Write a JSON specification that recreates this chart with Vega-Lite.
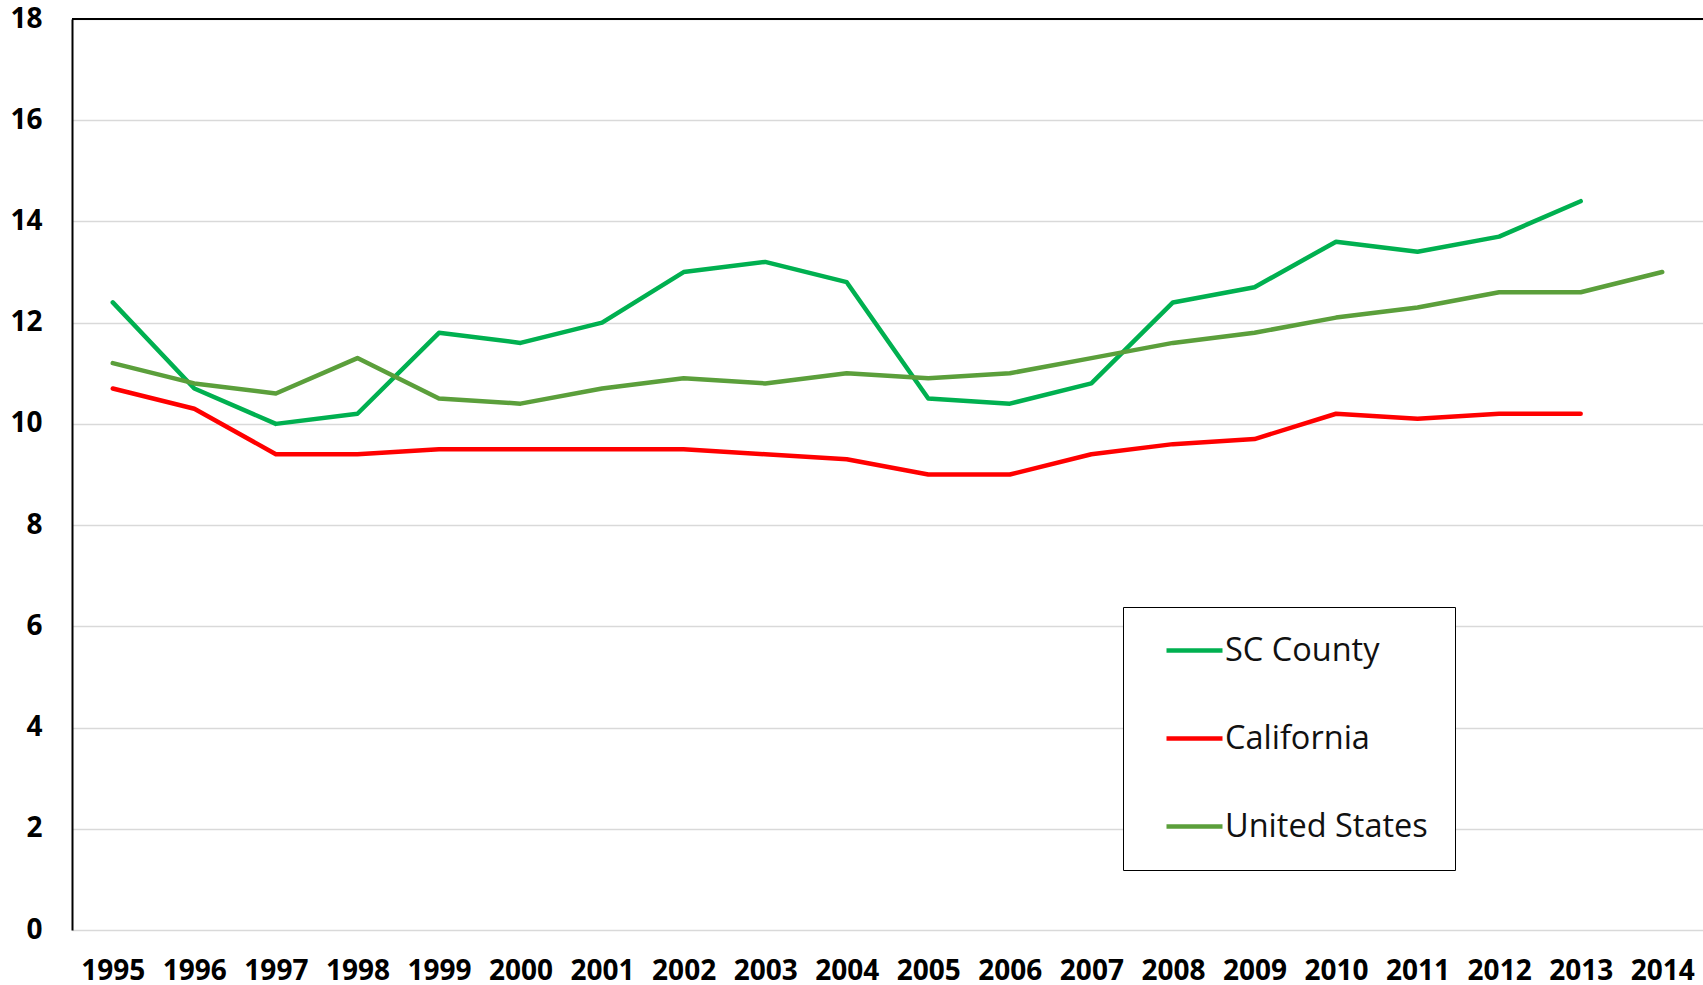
{
  "$schema": "https://vega.github.io/schema/vega-lite/v6.json",
  "width": 1631,
  "height": 911,
  "autosize": {"type": "none"},
  "padding": {"left": 72, "top": 19, "right": 0, "bottom": 55},
  "background": "white",
  "config": {
    "view": {"stroke": null},
    "font": "Open Sans"
  },
  "data": {
    "values": [
      {"year": "1995", "series": "SC County", "value": 12.4},
      {"year": "1996", "series": "SC County", "value": 10.7},
      {"year": "1997", "series": "SC County", "value": 10.0},
      {"year": "1998", "series": "SC County", "value": 10.2},
      {"year": "1999", "series": "SC County", "value": 11.8},
      {"year": "2000", "series": "SC County", "value": 11.6},
      {"year": "2001", "series": "SC County", "value": 12.0},
      {"year": "2002", "series": "SC County", "value": 13.0},
      {"year": "2003", "series": "SC County", "value": 13.2},
      {"year": "2004", "series": "SC County", "value": 12.8},
      {"year": "2005", "series": "SC County", "value": 10.5},
      {"year": "2006", "series": "SC County", "value": 10.4},
      {"year": "2007", "series": "SC County", "value": 10.8},
      {"year": "2008", "series": "SC County", "value": 12.4},
      {"year": "2009", "series": "SC County", "value": 12.7},
      {"year": "2010", "series": "SC County", "value": 13.6},
      {"year": "2011", "series": "SC County", "value": 13.4},
      {"year": "2012", "series": "SC County", "value": 13.7},
      {"year": "2013", "series": "SC County", "value": 14.4},
      {"year": "1995", "series": "California", "value": 10.7},
      {"year": "1996", "series": "California", "value": 10.3},
      {"year": "1997", "series": "California", "value": 9.4},
      {"year": "1998", "series": "California", "value": 9.4},
      {"year": "1999", "series": "California", "value": 9.5},
      {"year": "2000", "series": "California", "value": 9.5},
      {"year": "2001", "series": "California", "value": 9.5},
      {"year": "2002", "series": "California", "value": 9.5},
      {"year": "2003", "series": "California", "value": 9.4},
      {"year": "2004", "series": "California", "value": 9.3},
      {"year": "2005", "series": "California", "value": 9.0},
      {"year": "2006", "series": "California", "value": 9.0},
      {"year": "2007", "series": "California", "value": 9.4},
      {"year": "2008", "series": "California", "value": 9.6},
      {"year": "2009", "series": "California", "value": 9.7},
      {"year": "2010", "series": "California", "value": 10.2},
      {"year": "2011", "series": "California", "value": 10.1},
      {"year": "2012", "series": "California", "value": 10.2},
      {"year": "2013", "series": "California", "value": 10.2},
      {"year": "1995", "series": "United States", "value": 11.2},
      {"year": "1996", "series": "United States", "value": 10.8},
      {"year": "1997", "series": "United States", "value": 10.6},
      {"year": "1998", "series": "United States", "value": 11.3},
      {"year": "1999", "series": "United States", "value": 10.5},
      {"year": "2000", "series": "United States", "value": 10.4},
      {"year": "2001", "series": "United States", "value": 10.7},
      {"year": "2002", "series": "United States", "value": 10.9},
      {"year": "2003", "series": "United States", "value": 10.8},
      {"year": "2004", "series": "United States", "value": 11.0},
      {"year": "2005", "series": "United States", "value": 10.9},
      {"year": "2006", "series": "United States", "value": 11.0},
      {"year": "2007", "series": "United States", "value": 11.3},
      {"year": "2008", "series": "United States", "value": 11.6},
      {"year": "2009", "series": "United States", "value": 11.8},
      {"year": "2010", "series": "United States", "value": 12.1},
      {"year": "2011", "series": "United States", "value": 12.3},
      {"year": "2012", "series": "United States", "value": 12.6},
      {"year": "2013", "series": "United States", "value": 12.6},
      {"year": "2014", "series": "United States", "value": 13.0}
    ]
  },
  "layer": [
    {
      "mark": {"type": "line", "strokeWidth": 4.5, "strokeJoin": "round", "strokeCap": "round"},
      "encoding": {
        "x": {
          "field": "year",
          "type": "ordinal",
          "scale": {"type": "point", "padding": 0.5},
          "axis": {
            "title": null,
            "domain": false,
            "ticks": false,
            "grid": false,
            "labelAngle": 0,
            "labelFont": "Open Sans",
            "labelFontWeight": "bold",
            "labelFontSize": 28,
            "labelColor": "black",
            "labelPadding": 27
          }
        },
        "y": {
          "field": "value",
          "type": "quantitative",
          "scale": {"domain": [0, 18], "nice": false},
          "axis": {
            "title": null,
            "values": [0, 2, 4, 6, 8, 10, 12, 14, 16, 18],
            "ticks": false,
            "domain": true,
            "domainColor": "black",
            "domainWidth": 2,
            "grid": true,
            "gridColor": "#D9D9D9",
            "gridWidth": 1.5,
            "labelFont": "Open Sans",
            "labelFontWeight": "bold",
            "labelFontSize": 28,
            "labelColor": "black",
            "labelPadding": 30
          }
        },
        "color": {
          "field": "series",
          "type": "nominal",
          "scale": {
            "domain": ["SC County", "California", "United States"],
            "range": ["#00B050", "#FF0000", "#5B9F3B"]
          },
          "legend": {
            "title": null,
            "orient": "none",
            "legendX": 1051,
            "legendY": 588,
            "direction": "vertical",
            "strokeColor": "black",
            "fillColor": "white",
            "padding": 27,
            "symbolType": "M-2,0H2",
            "symbolSize": 784,
            "symbolOffset": 28,
            "symbolStrokeWidth": 4.5,
            "labelFont": "Open Sans",
            "labelFontSize": 32.5,
            "labelColor": "#111111",
            "labelOffset": 14,
            "rowPadding": 55,
            "labelLimit": 400
          }
        }
      }
    },
    {
      "mark": {"type": "rule", "color": "black", "strokeWidth": 2},
      "encoding": {"y": {"datum": 18}}
    }
  ]
}
